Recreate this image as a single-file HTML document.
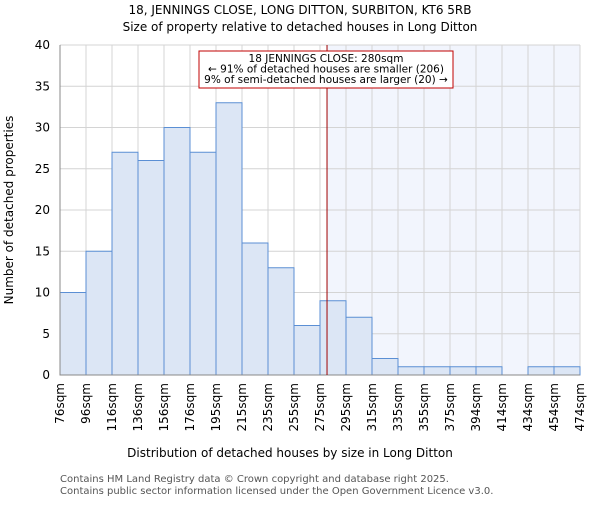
<!DOCTYPE html>
<html><head><meta charset="utf-8"><style>
body{margin:0;background:#fff;font-family:"Liberation Sans","DejaVu Sans",sans-serif}
</style></head><body>
<svg width="600" height="500" xmlns="http://www.w3.org/2000/svg" font-family="DejaVu Sans, Liberation Sans, sans-serif">
<text x="300" y="14" text-anchor="middle" font-size="12">18, JENNINGS CLOSE, LONG DITTON, SURBITON, KT6 5RB</text>
<text x="300" y="31" text-anchor="middle" font-size="12">Size of property relative to detached houses in Long Ditton</text>
<g id="plot"></g>
<text x="290" y="457" text-anchor="middle" font-size="12">Distribution of detached houses by size in Long Ditton</text>
<text transform="translate(13,210) rotate(-90)" text-anchor="middle" font-size="12">Number of detached properties</text>
<text x="60" y="482" font-size="10" fill="#555">Contains HM Land Registry data © Crown copyright and database right 2025.</text>
<text x="60" y="494" font-size="10" fill="#555">Contains public sector information licensed under the Open Government Licence v3.0.</text>
</svg>
<script>
const categories=["76sqm","96sqm","116sqm","136sqm","156sqm","176sqm","195sqm","215sqm","235sqm","255sqm","275sqm","295sqm","315sqm","335sqm","355sqm","375sqm","394sqm","414sqm","434sqm","454sqm","474sqm"];
const counts=[10,15,27,26,30,27,33,16,13,6,9,7,2,1,1,1,1,0,1,1];
const yTicks=[0,5,10,15,20,25,30,35,40];
const markerIndex=10.27;
const NS="http://www.w3.org/2000/svg";
const g=document.getElementById('plot');
const X0=60,X1=580,Y0=375,Y1=45,YMAX=40;
const bw=(X1-X0)/counts.length;
const xs=i=>X0+i*bw;
const ys=v=>Y0-(v/YMAX)*(Y0-Y1);
function mk(t,a){const e=document.createElementNS(NS,t);for(const k in a)e.setAttribute(k,a[k]);g.appendChild(e);return e;}
const mx=xs(markerIndex);
let sh=mk('rect',{x:mx,y:Y1,width:X1-mx,height:Y0-Y1,fill:'#f2f5fd'});


yTicks.forEach(v=>{
 let l=mk('line',{x1:X0,x2:X1,y1:ys(v),y2:ys(v),stroke:'#d4d4d4','stroke-width':1});
 
 
 let t=mk('text',{x:X0-10,y:ys(v)+4,'text-anchor':'end','font-size':12});t.textContent=v;
 
 
});
categories.forEach((c,i)=>{
 let l=mk('line',{x1:xs(i),x2:xs(i),y1:Y1,y2:Y0,stroke:'#d4d4d4','stroke-width':1});
 
 
 let t=mk('text',{transform:`translate(${xs(i)+4},${Y0+8}) rotate(-90)`,'text-anchor':'end','font-size':12});t.textContent=c;
 
 
});
counts.forEach((v,i)=>{
 if(v<=0)return;
 let r=mk('rect',{x:xs(i),y:ys(v),width:bw,height:Y0-ys(v),fill:'#dce6f5',stroke:'#5b8fd4','stroke-width':1});
 
 
});
let ax=mk('path',{d:`M${X0},${Y1}V${Y0}H${X1}`,fill:'none',stroke:'#888','stroke-width':1});


let rl=mk('line',{x1:mx,x2:mx,y1:Y1,y2:Y0,stroke:'#a00000','stroke-width':1});


let bx=mk('rect',{x:199,y:51,width:254,height:37,fill:'#fff',stroke:'#c00000','stroke-width':1});


["18 JENNINGS CLOSE: 280sqm","← 91% of detached houses are smaller (206)","9% of semi-detached houses are larger (20) →"].forEach((s,i)=>{
 let t=mk('text',{x:326,y:62+i*10.5,'text-anchor':'middle','font-size':10.5});t.textContent=s;
 
 
});
</script>
</body></html>
